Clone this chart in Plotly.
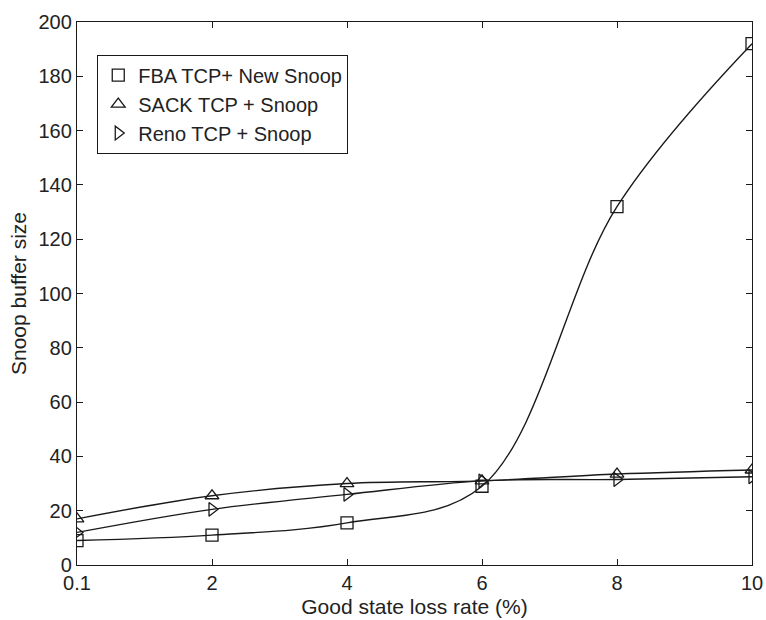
import plotly.graph_objects as go

# Loss rates (%) shown on the x axis, evenly spaced
loss_rate = ["0.1", "2", "4", "6", "8", "10"]

# Snoop buffer size for each scheme
fba_new_snoop = [9, 11, 15.5, 29, 132, 192]
sack_snoop = [17, 25.5, 30, 31, 33.5, 35]
reno_snoop = [12, 20.5, 26, 31, 31.5, 32.5]

series = [
    ("FBA TCP+ New Snoop", fba_new_snoop, "square-open"),
    ("SACK TCP + Snoop", sack_snoop, "triangle-up-open"),
    ("Reno TCP + Snoop", reno_snoop, "triangle-right-open"),
]

ink = "#1a1a1a"
fig = go.Figure()

for name, vals, sym in series:
    # smooth curve through the points
    fig.add_trace(go.Scatter(
        x=loss_rate, y=vals, mode="lines",
        line=dict(color=ink, width=1.4, shape="spline", smoothing=1.0),
        showlegend=False, hoverinfo="skip",
    ))
    # open markers at the measured points
    fig.add_trace(go.Scatter(
        x=loss_rate, y=vals, mode="markers", name=name,
        marker=dict(symbol=sym, size=12, color=ink, line=dict(width=1.3, color=ink)),
    ))

axis_common = dict(
    showline=True, linecolor=ink, linewidth=1.3, mirror="allticks",
    ticks="inside", ticklen=6, tickcolor=ink, tickwidth=1.2,
    showgrid=False, zeroline=False, automargin=False,
    tickfont=dict(size=20, color="#222"),
)

fig.update_layout(
    width=766, height=620,
    margin=dict(l=77, r=14, t=22, b=55),
    paper_bgcolor="white", plot_bgcolor="white",
    font=dict(family="Liberation Sans, Arial, sans-serif", color="#222"),
    xaxis=dict(
        type="category", range=[0, 5],
        title=dict(text="Good state loss rate (%)", font=dict(size=21), standoff=6),
        **axis_common,
    ),
    yaxis=dict(
        range=[0, 200], dtick=20,
        title=dict(text="Snoop buffer size", font=dict(size=21), standoff=6),
        **axis_common,
    ),
    legend=dict(
        x=0.03, y=0.94, xanchor="left", yanchor="top",
        bgcolor="white", bordercolor=ink, borderwidth=1,
        font=dict(size=20, color="#222"),
        tracegroupgap=0,
    ),
)

fig.write_html("out.html")
